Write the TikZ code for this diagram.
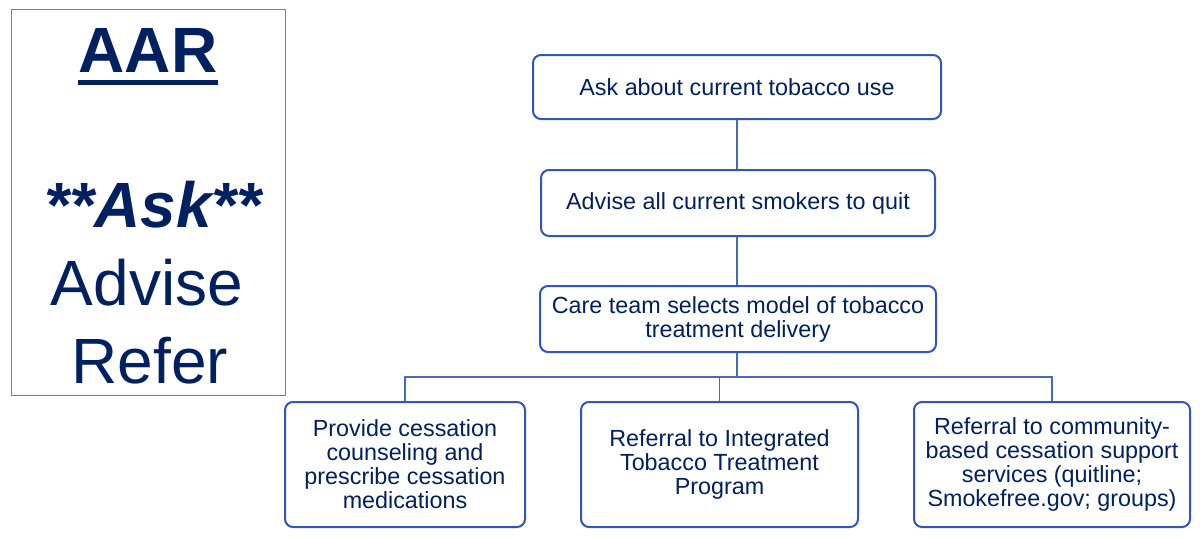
\documentclass[tikz,border=0pt]{standalone}
\usepackage{fontspec}
\setmainfont{Liberation Sans}
\definecolor{navy}{RGB}{0,32,96}
\definecolor{boxblue}{RGB}{50,84,190}
\definecolor{lineblue}{RGB}{70,105,195}
\definecolor{framegray}{RGB}{128,128,128}
\begin{document}
\begin{tikzpicture}[x=0.75pt,y=-0.75pt,
  flowbox/.style={draw=boxblue,line width=1.5pt,rounded corners=6pt,fill=white,
    text=navy,align=center,font=\fontsize{17.5}{18}\selectfont,inner sep=2pt},
  conn/.style={draw=lineblue,line width=0.9pt},
  bigtext/.style={text=navy,font=\fontsize{48}{50}\selectfont,anchor=base,inner sep=0pt}]
\useasboundingbox (0,0) rectangle (1200,539);
\fill[white] (0,0) rectangle (1200,539);
% left panel
\node[draw=framegray,line width=0.75pt,minimum width=205.5pt,minimum height=289.5pt,inner sep=0pt] (panel) at (148,202) {};
\node[bigtext,font=\fontsize{48}{50}\selectfont\bfseries] (aar) at (148,72) {AAR};
\draw[navy,line width=3.75pt] ([yshift=-7.9pt]aar.base west) -- ([yshift=-7.9pt]aar.base east);
\node[bigtext,font=\fontsize{48}{50}\selectfont\bfseries\itshape] (ask) at (153,227) {**Ask**};
\node[bigtext] (advise) at (147,305) {Advise};
\node[bigtext] (refer) at (150,383) {Refer};
% flow boxes
\node[flowbox,minimum width=306pt,minimum height=48pt] (b1) at (737,87) {Ask about current tobacco use};
\node[flowbox,minimum width=295.5pt,minimum height=49.5pt] (b2) at (738,203) {Advise all current smokers to quit};
\node[flowbox,minimum width=297pt,minimum height=49.5pt] (b3) at (738,319) {Care team selects model of tobacco\\treatment delivery};
\node[flowbox,minimum width=180pt,minimum height=93.75pt] (b4) at (405,464.5) {Provide cessation\\counseling and\\prescribe cessation\\medications};
\node[flowbox,minimum width=207.75pt,minimum height=93.75pt] (b5) at (719.5,464.5) {Referral to Integrated\\Tobacco Treatment\\Program};
\node[flowbox,minimum width=207pt,minimum height=93.75pt] (b6) at (1052,464.5) {Referral to community-\\based cessation support\\services (quitline;\\Smokefree.gov; groups)};
\coordinate (bus) at (737,377);
% connectors
\draw[conn] (b1.south) -- (b1.south |- b2.north);
\draw[conn] (b1.south |- b2.south) -- (b1.south |- b3.north);
\draw[conn] (b1.south |- b3.south) -- (bus);
\draw[conn] (b4.north) |- (bus);
\draw[conn] (b6.north) |- (bus);
\draw[conn] (b5.north) -- (b5.north |- bus);
\end{tikzpicture}
\end{document}
